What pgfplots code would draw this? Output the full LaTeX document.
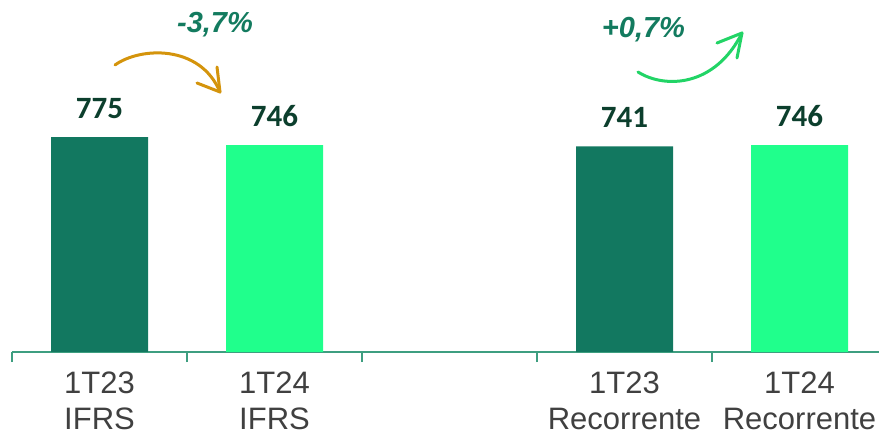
\documentclass[border=0pt]{standalone}
\usepackage{pgfplots}
\pgfplotsset{compat=1.18}
\usepackage{fontspec}
\setmainfont{Liberation Sans}
\newfontfamily\calibri{Carlito}
\definecolor{darkbar}{HTML}{127860}
\definecolor{lightbar}{HTML}{20FF8C}
\definecolor{axisc}{HTML}{3E9E80}
\definecolor{lbl}{HTML}{0C3F2D}
\definecolor{pct}{HTML}{137B5F}
\definecolor{tickc}{HTML}{404040}
\definecolor{orangea}{HTML}{D4940C}
\definecolor{greena}{HTML}{22D466}
\begin{document}
\begin{tikzpicture}[x=1pt,y=1pt]
\useasboundingbox (0,0) rectangle (879,439);
\begin{axis}[
  at={(12pt,87pt)}, anchor=south west,
  scale only axis, width=875pt, height=352pt,
  xmin=-0.5, xmax=4.5, ymin=0, ymax=1269,
  axis x line*=bottom, axis y line=none,
  ytick=\empty,
  xtick={0,1,2,3,4},
  xticklabels={{1T23\\IFRS},{1T24\\IFRS},{},{1T23\\Recorrente},{1T24\\Recorrente}},
  minor xtick={-0.5,0.5,1.5,2.5,3.5,4.5},
  major tick length=0pt, minor tick length=10pt,
  tick align=outside,
  tick style={draw=axisc, line width=1.5pt},
  axis line style={draw=axisc, line width=1.5pt},
  xticklabel style={align=center, font=\fontsize{31}{36}\selectfont, text=tickc, inner sep=0pt, anchor=north, yshift=-20pt},
  ybar, bar width=97pt,
  /pgf/number format/assume math mode=true,
  nodes near coords,
  every node near coord/.append style={font=\calibri\bfseries\fontsize{31}{34}\selectfont, text=lbl, anchor=base, inner sep=0pt, yshift=19pt},
  clip=false,
]
\addplot[ybar, bar shift=0pt, fill=darkbar, draw=none] coordinates {(0,775) (3,741)};
\addplot[ybar, bar shift=0pt, fill=lightbar, draw=none] coordinates {(1,746) (4,746)};
\end{axis}
\node[anchor=base, inner sep=0pt, text=pct, font=\bfseries\itshape\fontsize{29}{34}\selectfont] at (215,406) {-3,7\%};
\node[anchor=base, inner sep=0pt, text=pct, font=\bfseries\itshape\fontsize{29}{34}\selectfont] at (643.5,401) {+0,7\%};
\draw[orangea, line width=3pt, line cap=round, line join=round] (115,374) .. controls (140,392) and (200,395) .. (220,347);
\draw[orangea, line width=3pt, line cap=round, line join=round] (197,356) -- (220,347) -- (217,372);
\draw[greena, line width=3pt, line cap=round, line join=round] (638,367) .. controls (665,350) and (715,352) .. (742,406);
\draw[greena, line width=3pt, line cap=round, line join=round] (717,396) -- (742,406) -- (737,381);
\end{tikzpicture}
\end{document}
